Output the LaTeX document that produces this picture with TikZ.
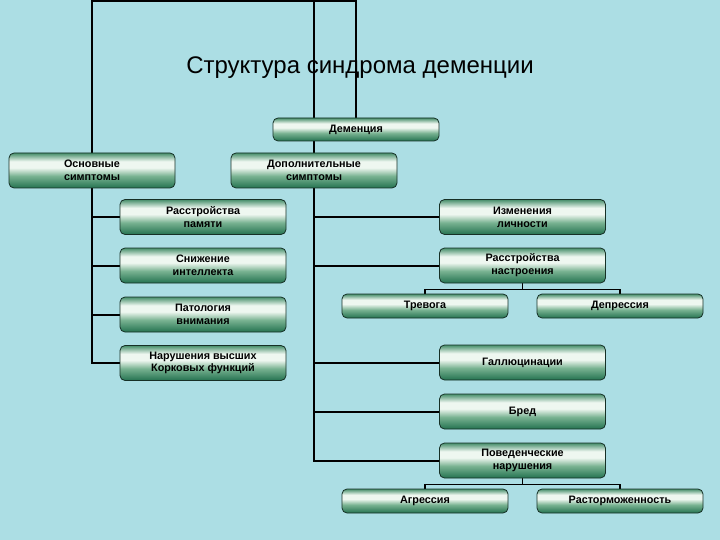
\documentclass[tikz,border=0pt]{standalone}
\usepackage{fontspec}
\setmainfont{Liberation Sans}
\usetikzlibrary{calc}

\definecolor{sea}{RGB}{172,222,228}
\definecolor{grB}{RGB}{36,114,80}
\definecolor{grM}{RGB}{120,178,145}
\definecolor{grT}{RGB}{70,142,106}
\definecolor{grL}{RGB}{238,247,240}
\definecolor{boxline}{RGB}{22,48,38}

\pgfdeclareverticalshading{greenbar}{100bp}{color(0bp)=(grB); color(25bp)=(grB); color(42bp)=(grM); color(54bp)=(grL); color(63bp)=(grL); color(75bp)=(grT); color(100bp)=(grT)}

\pgfdeclarelayer{back}
\pgfdeclarelayer{wires}
\pgfsetlayers{back,wires,main}

\tikzset{
	symbox/.style={draw=boxline, line width=0.8pt, rounded corners=5pt, shade, shading=greenbar,
		minimum width=166pt, minimum height=35pt, inner sep=0pt, align=center,
		font=\fontsize{10.8}{12.8}\selectfont\bfseries},
	subbox/.style={symbox, minimum height=24pt},
	wire/.style={line width=2pt, black},
	thinwire/.style={line width=1.6pt, black}
}

\begin{document}
\begin{tikzpicture}[x=1pt,y=-1pt]
		%%%%% START %%%%%
		\useasboundingbox (0,0) rectangle (720,540);
		
		\begin{pgfonlayer}{back}
		\fill[sea] (0,0) rectangle (720,540);
		\node (title) at (360,68) {\fontsize{24}{28}\selectfont Структура синдрома деменции};
		\end{pgfonlayer}
		
		\node[symbox, minimum height=23pt] (dem) at (356,129.5) {Деменция};
		\node[symbox] (osn) at (92,170.5) {Основные\\симптомы};
		\node[symbox] (dop) at (314,170.5) {Дополнительные\\симптомы};
		
		\node[symbox] (l1) at (203,217) {Расстройства\\памяти};
		\node[symbox] (l2) at (203,265.5) {Снижение\\интеллекта};
		\node[symbox] (l3) at (203,314.5) {Патология\\внимания};
		\node[symbox] (l4) at (203,363) {Нарушения высших\\Корковых функций};
		
		\node[symbox] (r1) at (522.5,217) {Изменения\\личности};
		\node[symbox] (r2) at (522.5,265.5) {Расстройства\\настроения};
		\node[symbox] (r3) at (522.5,362.5) {Галлюцинации};
		\node[symbox] (r4) at (522.5,411.5) {Бред};
		\node[symbox] (r5) at (522.5,460.5) {Поведенческие\\нарушения};
		
		\node[subbox] (s1) at (425,306) {Тревога};
		\node[subbox] (s2) at (620,306) {Депрессия};
		\node[subbox] (s3) at (425,501) {Агрессия};
		\node[subbox] (s4) at (620,501) {Расторможенность};
		
		\begin{pgfonlayer}{wires}
		\coordinate (topL) at (92,1);
		\coordinate (topR) at (356,1);
		\draw[wire] (dem.north) -- (topR) -- (topL) -- (osn.north);
		\draw[wire] (dop.north |- topL) -- (dop.north);
		
		\draw[wire] (osn.south) |- (l4.west);
		\foreach \b in {l1,l2,l3}
			\draw[wire] (osn.south |- \b.west) -- (\b.west);
		
		\draw[wire] (dop.south) |- (r5.west);
		\foreach \b in {r1,r2,r3,r4}
			\draw[wire] (dop.south |- \b.west) -- (\b.west);
		
		\draw[thinwire] (r2.south) -- ++(0,6) coordinate (j1);
		\draw[thinwire] (s1.north) |- (j1) -| (s2.north);
		\draw[thinwire] (r5.south) -- ++(0,6) coordinate (j2);
		\draw[thinwire] (s3.north) |- (j2) -| (s4.north);
		\end{pgfonlayer}
		%%%%% END %%%%%
\end{tikzpicture}
\end{document}
